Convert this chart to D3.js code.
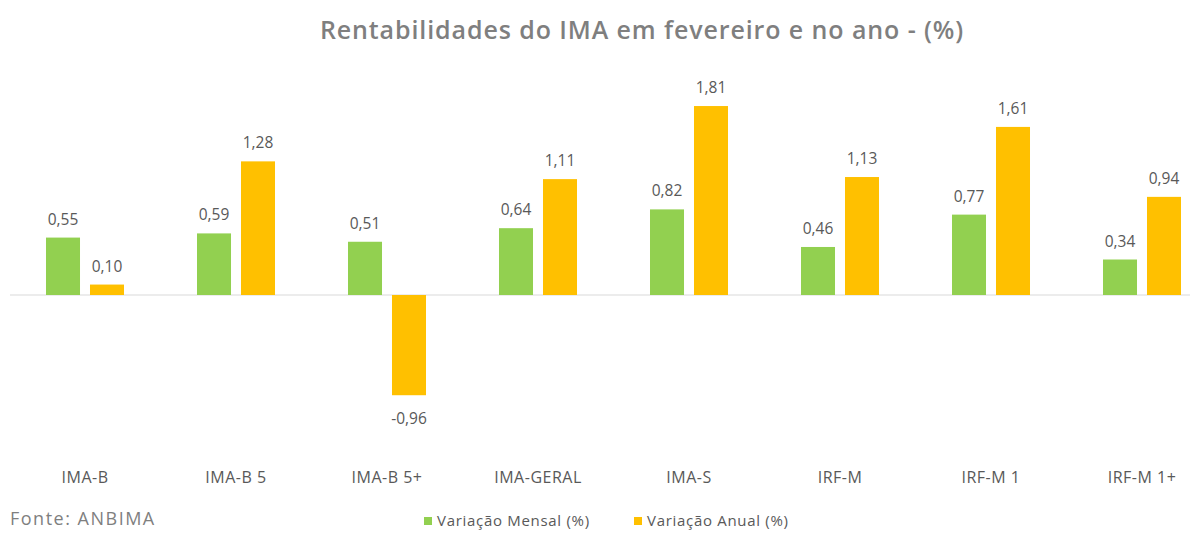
<!DOCTYPE html>
<html>
<head>
<meta charset="utf-8">
<script src="https://cdn.jsdelivr.net/npm/d3@7"></script>
<style>
  body { margin: 0; background: #fff; }
  text { font-family: "Open Sans", "Noto Sans", sans-serif; }
</style>
</head>
<body>
<svg id="chart" width="1204" height="533"></svg>
<script>
// data
var categories = ["IMA-B", "IMA-B 5", "IMA-B 5+", "IMA-GERAL", "IMA-S", "IRF-M", "IRF-M 1", "IRF-M 1+"];
var seriesNames = ["Variação Mensal (%)", "Variação Anual (%)"];
var mensal = [0.55, 0.59, 0.51, 0.64, 0.82, 0.46, 0.77, 0.34];
var anual = [0.10, 1.28, -0.96, 1.11, 1.81, 1.13, 1.61, 0.94];
var colors = ["#92D050", "#FFC000"];

var svg = d3.select("#chart");

svg.append("text")
   .attr("x", 642)
   .attr("y", 39)
   .attr("text-anchor", "middle")
   .attr("font-size", "25px")
   .attr("font-weight", 600)
   .attr("letter-spacing", "0.9px")
   .attr("fill", "#7f7f7f")
   .text("Rentabilidades do IMA em fevereiro e no ano - (%)");

var x0 = d3.scaleBand().domain(categories).range([9.5, 1217.5]).paddingInner(0.4834).paddingOuter(0.2417);
var x1 = d3.scaleBand().domain(seriesNames).range([0, x0.bandwidth()]).paddingInner(0.227);
var y = d3.scaleLinear().domain([-1, 2]).range([399.4, 86.2]);

var fmt = function(v) { return d3.format(".2f")(v).replace("−", "-").replace(".", ","); };

var rows = categories.map(function(c, i) {
    return { cat: c, vals: [mensal[i], anual[i]] };
});

// baseline
svg.append("line")
   .attr("x1", 10).attr("x2", 1190)
   .attr("y1", y(0)).attr("y2", y(0))
   .attr("stroke", "#d9d9d9")
   .attr("stroke-width", 1);

var g = svg.selectAll(".grp")
   .data(rows)
   .enter().append("g")
   .attr("class", "grp")
   .attr("transform", function(d) { return "translate(" + x0(d.cat) + ",0)"; });

var bars = g.selectAll(".bar")
   .data(function(d) { return d.vals.map(function(v, j) { return { s: seriesNames[j], v: v, j: j }; }); })
   .enter();

bars.append("rect")
   .attr("x", function(d) { return x1(d.s); })
   .attr("y", function(d) { return y(Math.max(0, d.v)); })
   .attr("width", x1.bandwidth())
   .attr("height", function(d) { return Math.abs(y(d.v) - y(0)); })
   .attr("fill", function(d) { return colors[d.j]; });

bars.append("text")
   .attr("x", function(d) { return x1(d.s) + x1.bandwidth() / 2; })
   .attr("y", function(d) { return d.v >= 0 ? y(d.v) - 13 : y(d.v) + 29; })
   .attr("text-anchor", "middle")
   .attr("font-size", "15.5px")
   .attr("fill", "#595959")
   .text(function(d) { return fmt(d.v); });

// category labels
svg.append("g")
   .selectAll("text")
   .data(categories)
   .enter().append("text")
   .attr("x", function(d) { return x0(d) + x0.bandwidth() / 2; })
   .attr("y", 483)
   .attr("text-anchor", "middle")
   .attr("font-size", "16px")
   .attr("letter-spacing", "0.5px")
   .attr("fill", "#595959")
   .text(function(d) { return d; });

svg.append("text")
   .attr("x", 10)
   .attr("y", 525)
   .attr("font-size", "18px")
   .attr("letter-spacing", "1.5px")
   .attr("fill", "#7f7f7f")
   .text("Fonte: ANBIMA");

// legend
var legendX = [424, 634];
var lg = svg.selectAll(".leg")
   .data(seriesNames)
   .enter().append("g")
   .attr("class", "leg")
   .attr("transform", function(d, i) { return "translate(" + legendX[i] + ",517)"; });
lg.append("rect")
   .attr("width", 8).attr("height", 8)
   .attr("fill", function(d, i) { return colors[i]; });
lg.append("text")
   .attr("x", 13)
   .attr("y", 9)
   .attr("font-size", "15px")
   .attr("letter-spacing", "0.7px")
   .attr("fill", "#595959")
   .text(function(d) { return d; });
</script>
</body>
</html>
